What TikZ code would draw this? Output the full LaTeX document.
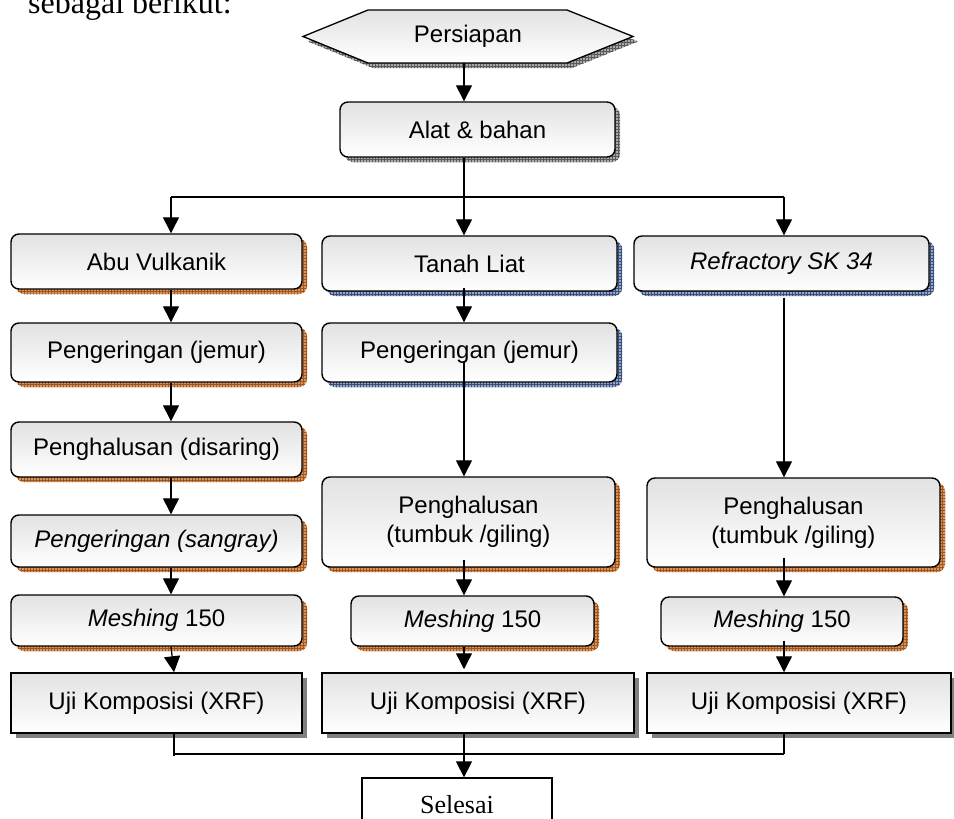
\documentclass[tikz,border=0pt]{standalone}
\usepackage{fontspec}
\setmainfont{Liberation Serif}
\newfontfamily\arialfont{Liberation Sans}
\usetikzlibrary{arrows.meta,shadows,patterns}

\definecolor{boxtop}{RGB}{226,226,226}
\definecolor{brownbase}{RGB}{214,150,96}
\definecolor{brownline}{RGB}{160,84,30}
\definecolor{bluebase}{RGB}{150,166,198}
\definecolor{blueline}{RGB}{58,78,122}
\definecolor{graybase}{RGB}{170,170,170}
\definecolor{grayline}{RGB}{90,90,90}
\definecolor{solidshade}{RGB}{128,128,128}

\tikzset{
  boxfont/.style={font=\arialfont\fontsize{24}{29}\selectfont, align=center, inner sep=0pt},
  roundbox/.style={boxfont, rectangle, rounded corners=8pt, draw=black, line width=1.4pt,
    top color=boxtop, bottom color=white},
  flatbox/.style={boxfont, rectangle, draw=black, line width=1.5pt,
    top color=boxtop, bottom color=white},
  hatchshadow/.style 2 args={
    general shadow={fill=#1, shadow xshift=5pt, shadow yshift=-5pt},
    general shadow={pattern=grid, pattern color=#2, shadow xshift=5pt, shadow yshift=-5pt}},
  brownshade/.style={hatchshadow={brownbase}{brownline}},
  blueshade/.style={hatchshadow={bluebase}{blueline}},
  grayshade/.style={hatchshadow={graybase}{grayline}},
  solidshadow/.style={general shadow={fill=solidshade, shadow xshift=5pt, shadow yshift=-5pt}},
  ln/.style={line width=1.3pt},
  arr/.style={ln, -{Triangle[length=16pt,width=16pt]}},
}

\begin{document}
\begin{tikzpicture}[x=1pt,y=-1pt]
\useasboundingbox (0,0) rectangle (954,819);

% column axes and junction levels
\coordinate (cL) at (171,0);
\coordinate (cLb) at (174,0);
\coordinate (cM) at (464,0);
\coordinate (cR) at (784,0);
\coordinate (bT) at (0,197);
\coordinate (bB) at (0,754);

% lead-in sentence
\node[anchor=base west, inner sep=0pt, font=\fontsize{32}{36}\selectfont] (lead) at (28,13) {sebagai berikut:};

% start terminal (hexagon)
\begin{scope}[shift={(5,5)}]
  \fill[graybase] (303,36.5) -- (368,10) -- (567,10) -- (633,36.5) -- (567,63) -- (368,63) -- cycle;
  \fill[pattern=grid, pattern color=grayline] (303,36.5) -- (368,10) -- (567,10) -- (633,36.5) -- (567,63) -- (368,63) -- cycle;
\end{scope}
\draw[line width=1.3pt, top color=boxtop, bottom color=white]
  (303,36.5) -- (368,10) -- (567,10) -- (633,36.5) -- (567,63) -- (368,63) -- cycle;
\node[boxfont, minimum width=330pt, minimum height=53pt] (prep) at (468,36.5) {Persiapan};

% materials
\node[roundbox, grayshade, minimum width=275pt, minimum height=55pt] (alat) at (477.5,129.5) {Alat \& bahan};

% left column
\node[roundbox, brownshade, minimum width=291pt, minimum height=55pt] (abu) at (156.5,261.5) {Abu Vulkanik};
\node[roundbox, brownshade, minimum width=291pt, minimum height=59pt] (kering1) at (156.5,352.5) {Pengeringan (jemur)};
\node[roundbox, brownshade, minimum width=291pt, minimum height=55pt] (halus1) at (156.5,449.5) {Penghalusan (disaring)};
\node[roundbox, brownshade, minimum width=291pt, minimum height=52pt] (sangray) at (156.5,541) {\itshape Pengeringan (sangray)};
\node[roundbox, brownshade, minimum width=291pt, minimum height=51pt] (mesh1) at (156.5,620.5) {\textit{Meshing} 150};
\node[flatbox, solidshadow, minimum width=291pt, minimum height=60pt] (uji1) at (156.5,703) {Uji Komposisi (XRF)};

% middle column
\node[roundbox, blueshade, minimum width=295pt, minimum height=55pt] (tanah) at (469.5,263.5) {Tanah Liat};
\node[roundbox, blueshade, minimum width=295pt, minimum height=59pt] (kering2) at (469.5,352.5) {Pengeringan (jemur)};
\node[roundbox, brownshade, minimum width=293pt, minimum height=90pt] (halus2) at (468.5,522) {Penghalusan\\(tumbuk /giling)};
\node[roundbox, brownshade, minimum width=243pt, minimum height=50pt] (mesh2) at (472.5,621) {\textit{Meshing} 150};
\node[flatbox, solidshadow, minimum width=312pt, minimum height=60pt] (uji2) at (478,703) {Uji Komposisi (XRF)};

% right column
\node[roundbox, blueshade, minimum width=295pt, minimum height=55pt] (refr) at (781.5,263.5) {\itshape Refractory SK 34};
\node[roundbox, brownshade, minimum width=293pt, minimum height=89pt] (halus3) at (793.5,522.5) {Penghalusan\\(tumbuk /giling)};
\node[roundbox, brownshade, minimum width=242pt, minimum height=49pt] (mesh3) at (782,621.5) {\textit{Meshing} 150};
\node[flatbox, solidshadow, minimum width=304pt, minimum height=60pt] (uji3) at (799,703) {Uji Komposisi (XRF)};

% end terminal
\node[draw=black, line width=1.3pt, fill=white, minimum width=190pt, minimum height=54pt,
      inner sep=0pt, font=\fontsize{26}{30}\selectfont] (selesai) at (457,805) {Selesai};

% flow: start
\draw[arr] (prep.south -| cM) -- (alat.north -| cM);
\draw[ln] (alat.south -| cM) -- (bT -| cM);
\draw[ln] (bT -| cL) -- (bT -| cR);
\draw[arr] (bT -| cL) -- (abu.north -| cL);
\draw[arr] (bT -| cM) -- (tanah.north -| cM);
\draw[arr] (bT -| cR) -- (refr.north -| cR);

% flow: left column
\draw[arr] (abu.south -| cL) -- (kering1.north -| cL);
\draw[arr] (kering1.south -| cL) -- (halus1.north -| cL);
\draw[arr] (halus1.south -| cL) -- (sangray.north -| cL);
\draw[arr] (sangray.south -| cL) -- (mesh1.north -| cL);
\draw[arr] (mesh1.south -| cL) -- (uji1.north -| cLb);

% flow: middle column
\draw[arr] ([yshift=4pt]tanah.south -| cM) -- (kering2.north -| cM);
\draw[arr] ([yshift=22pt]kering2.south -| cM) -- (halus2.north -| cM);
\draw[arr] ([yshift=8pt]halus2.south -| cM) -- (mesh2.north -| cM);
\draw[arr] (mesh2.south -| cM) -- ([yshift=3pt]uji2.north -| cM);

% flow: right column
\draw[arr] ([yshift=-6pt]refr.south -| cR) -- (halus3.north -| cR);
\draw[arr] ([yshift=10pt]halus3.south -| cR) -- (mesh3.north -| cR);
\draw[arr] ([yshift=6pt]mesh3.south -| cR) -- (uji3.north -| cR);

% flow: merge to end
\draw[ln] (uji1.south -| cLb) -- ([yshift=-2pt]bB -| cLb);
\draw[ln] (uji3.south -| cR) -- (bB -| cR);
\draw[line width=2pt] (bB -| cLb) -- (bB -| cR);
\draw[arr] (uji2.south -| cM) -- (selesai.north -| cM);
\end{tikzpicture}
\end{document}
